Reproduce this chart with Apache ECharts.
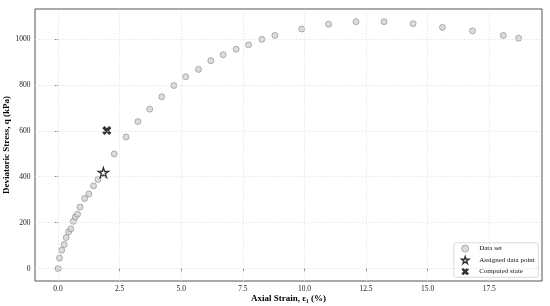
<!DOCTYPE html>
<html>
<head>
<meta charset="utf-8">
<script src="https://cdn.jsdelivr.net/npm/echarts@6/dist/echarts.min.js"></script>
<style>
html,body{margin:0;padding:0;background:#fff;}
#c{width:550px;height:306px;}
</style>
</head>
<body>
<div id="c"></div>
<script>
// Data set: axial strain (%) and deviatoric stress (kPa)
const strain = [0, 0.06, 0.15, 0.25, 0.33, 0.43, 0.52, 0.62, 0.70, 0.79, 0.89, 1.08, 1.25, 1.44, 1.62, 2.28, 2.76, 3.24, 3.72, 4.21, 4.70, 5.18, 5.70, 6.20, 6.70, 7.23, 7.73, 8.27, 8.80, 9.89, 10.98, 12.09, 13.23, 14.41, 15.60, 16.82, 18.07, 18.69];
const stress = [0, 46, 80, 105, 135, 160, 173, 206, 225, 237, 268, 305, 325, 360, 388, 499, 573, 640, 694, 748, 797, 835, 867, 905, 931, 955, 974, 998, 1015, 1043, 1064, 1075, 1075, 1066, 1050, 1035, 1015, 1003];
const assignedStrain = [1.84];
const assignedStress = [418];
const computedStrain = [1.98];
const computedStress = [601];
const xTicks = [0, 2.5, 5, 7.5, 10, 12.5, 15, 17.5];
const yTicks = [0, 200, 400, 600, 800, 1000];
const seriesNames = ['Data set', 'Assigned data point', 'Computed state'];

const zip = (a, b) => a.map((v, i) => [v, b[i]]);
const starPath = 'path://M10,0L12.245,6.91L19.51,6.91L13.63,11.18L15.88,18.09L10,13.82L4.12,18.09L6.37,11.18L0.49,6.91L7.755,6.91Z';
const crossPath = 'path://M4.5,0L10,5.5L15.5,0L20,4.5L14.5,10L20,15.5L15.5,20L10,14.5L4.5,20L0,15.5L5.5,10L0,4.5Z';
const serif = '"Liberation Serif","Times New Roman",serif';

const dataStyle = {color: '#d3d3d3', borderColor: '#6a6a6a', borderWidth: 0.6};
const starStyle = {color: '#fff', borderColor: '#000', borderWidth: 1.4};
const crossStyle = {color: '#000', borderColor: '#000', borderWidth: 0.5};

const chart = echarts.init(document.getElementById('c'), null, {renderer: 'canvas'});
chart.setOption({
  animation: false,
  backgroundColor: '#fff',
  textStyle: {fontFamily: serif},
  grid: {left: 35, right: 8, top: 9, bottom: 25, containLabel: false, outerBoundsMode: 'none',
    show: true, borderColor: '#555', borderWidth: 1, backgroundColor: 'transparent'},
  xAxis: {
    type: 'value', min: -0.935, max: 19.64,
    name: 'Axial Strain, ε\u2081 (%)', nameLocation: 'middle', nameGap: 13, nameMoveOverlap: false,
    nameTextStyle: {fontFamily: serif, fontWeight: 'bold', fontSize: 9, color: '#000'},
    axisLine: {show: false},
    axisTick: {show: true, length: 3, lineStyle: {color: '#555', width: 0.8}, customValues: xTicks},
    axisLabel: {fontFamily: serif, fontSize: 7.5, color: '#222', margin: 4.5, customValues: xTicks,
      formatter: v => v.toFixed(1)},
    splitLine: {show: false}
  },
  yAxis: {
    type: 'value', min: -54, max: 1130,
    name: 'Deviatoric Stress, q (kPa)', nameLocation: 'middle', nameGap: 24, nameMoveOverlap: false,
    nameTextStyle: {fontFamily: serif, fontWeight: 'bold', fontSize: 9, color: '#000'},
    axisLine: {show: false},
    axisTick: {show: true, length: 3, lineStyle: {color: '#555', width: 0.8}, customValues: yTicks},
    axisLabel: {fontFamily: serif, fontSize: 7.5, color: '#222', margin: 4.5, customValues: yTicks,
      formatter: v => String(Math.round(v))},
    splitLine: {show: false}
  },
  legend: {
    orient: 'vertical', right: 11.7, bottom: 28.7,
    data: [
      {name: seriesNames[0], icon: 'circle', itemStyle: dataStyle},
      {name: seriesNames[1], icon: starPath, itemStyle: starStyle},
      {name: seriesNames[2], icon: crossPath, itemStyle: crossStyle}
    ],
    itemWidth: 18, itemHeight: 7, itemGap: 3.5,
    padding: [2, 3.5, 2, 7],
    backgroundColor: '#fff', borderColor: '#d0d0d0', borderWidth: 0.8, borderRadius: 2,
    textStyle: {fontFamily: serif, fontSize: 7, color: '#111'}
  },
  series: [
    {
      name: 'grid', type: 'scatter', data: [], silent: true,
      markLine: {
        silent: true, symbol: 'none', label: {show: false},
        lineStyle: {type: [1.5, 1.5], color: '#e2e2e2', width: 0.8},
        data: xTicks.map(v => ({xAxis: v})).concat(yTicks.map(v => ({yAxis: v})))
      }
    },
    {
      name: seriesNames[0], type: 'scatter', data: zip(strain, stress),
      symbol: 'circle', symbolSize: 6, z: 3, itemStyle: dataStyle
    },
    {
      name: seriesNames[1], type: 'scatter', data: zip(assignedStrain, assignedStress),
      symbol: starPath, symbolKeepAspect: true, symbolSize: 10, z: 4, itemStyle: starStyle
    },
    {
      name: seriesNames[2], type: 'scatter', data: zip(computedStrain, computedStress),
      symbol: crossPath, symbolKeepAspect: true, symbolSize: 8.5, z: 4, itemStyle: crossStyle
    }
  ]
});
</script>
</body>
</html>
